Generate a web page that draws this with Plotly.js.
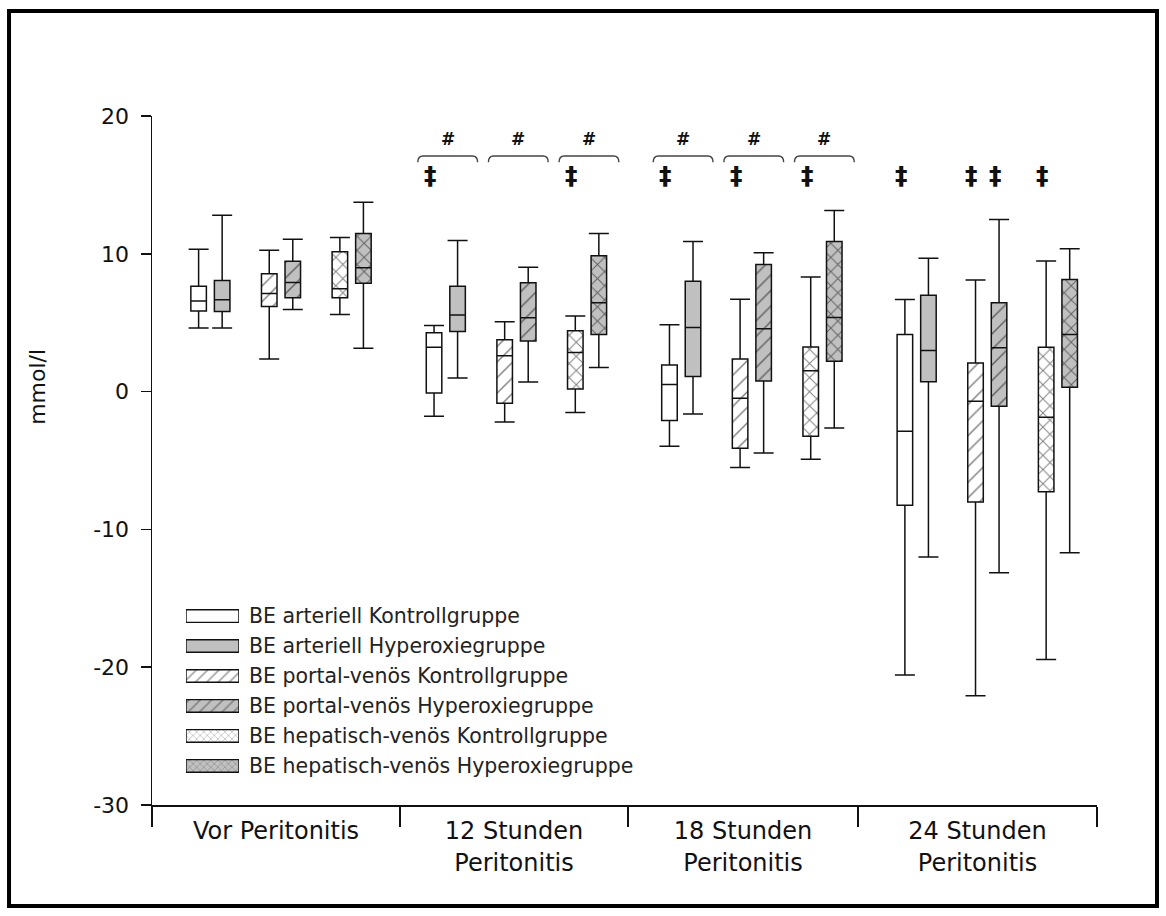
<!DOCTYPE html>
<html>
<head>
<meta charset="utf-8">
<script src="https://cdn.plot.ly/plotly-3.0.1.min.js"></script>
<style>
html,body{margin:0;padding:0;background:#fff;}
#chart{width:1166px;height:916px;}
</style>
</head>
<body>
<div id="chart"></div>
<script>
// ---------------- data ----------------
const categories = ['Vor Peritonitis', '12 Stunden<br>Peritonitis', '18 Stunden<br>Peritonitis', '24 Stunden<br>Peritonitis'];
const seriesNames = [
  'BE arteriell Kontrollgruppe',
  'BE arteriell Hyperoxiegruppe',
  'BE portal-venös Kontrollgruppe',
  'BE portal-venös Hyperoxiegruppe',
  'BE hepatisch-venös Kontrollgruppe',
  'BE hepatisch-venös Hyperoxiegruppe'
];
// rows = series (same order as seriesNames), columns = categories
const lowerWhisker = [
  [4.61, -1.79, -3.96, -20.56],
  [4.61,  0.99, -1.62, -12.00],
  [2.36, -2.20, -5.51, -22.08],
  [5.96,  0.70, -4.45, -13.14],
  [5.60, -1.52, -4.91, -19.45],
  [3.14,  1.74, -2.64, -11.70]
];
const quartile1 = [
  [5.84, -0.10, -2.10, -8.24],
  [5.82,  4.37,  1.09,  0.72],
  [6.18, -0.85, -4.11, -8.02],
  [6.81,  3.67,  0.77, -1.07],
  [6.81,  0.19, -3.24, -7.27],
  [7.87,  4.15,  2.20,  0.31]
];
const medianValues = [
  [6.57, 3.21,  0.51, -2.88],
  [6.67, 5.55,  4.66,  2.99],
  [7.12, 2.61, -0.49, -0.70],
  [7.92, 5.36,  4.56,  3.19],
  [7.46, 2.83,  1.52, -1.86],
  [8.99, 6.45,  5.38,  4.15]
];
const quartile3 = [
  [7.65,  4.27, 1.93, 4.15],
  [8.07,  7.65, 8.01, 7.00],
  [8.55,  3.77, 2.36, 2.07],
  [9.46,  7.90, 9.22, 6.45],
  [10.14, 4.42, 3.23, 3.21],
  [11.47, 9.85, 10.89, 8.14]
];
const upperWhisker = [
  [10.33, 4.80, 4.85, 6.69],
  [12.80, 10.96, 10.89, 9.68],
  [10.26, 5.07, 6.71, 8.09],
  [11.06, 9.03, 10.07, 12.49],
  [11.18, 5.48, 8.31, 9.47],
  [13.74, 11.47, 13.14, 10.36]
];
const yTickValues = [-30, -20, -10, 0, 10, 20];
// significance marks: '#' brackets over pairs [category, pair], '‡' over [category, series]
const hashBrackets = [[1,0],[1,1],[1,2],[2,0],[2,1],[2,2]];
const daggerMarks = [[1,0],[1,4],[2,0],[2,2],[2,4],[3,0],[3,2],[3,3],[3,4]];

// ---------------- styling / layout ----------------
const FONT = 'DejaVu Sans, Arial, sans-serif';
const INK = '#111111';
const GRAY = '#c0c0c0';
const offsets = [-0.35, -0.25, -0.05, 0.05, 0.25, 0.35];
const fillColors = ['#ffffff', GRAY, '#ffffff', GRAY, '#ffffff', GRAY];
const patternShapes = ['', '', '/', '/', 'x', 'x'];
const patternSizes = [8, 8, 11, 11, 10, 10];
const patternSolidity = [0.1, 0.1, 0.13, 0.13, 0.18, 0.18];
const legendPatternSizes = [6, 6, 8, 8, 5, 5];
const boundaries = [-0.548, 0.5055, 1.474, 2.451, 3.466];
const labelPos = boundaries.slice(0, -1).map((b, i) => (b + boundaries[i + 1]) / 2);
const BOXW = 0.066;

const traces = [];
seriesNames.forEach((name, s) => {
  const xs = categories.map((c, g) => g + offsets[s]);
  // patterned box body
  traces.push({
    type: 'bar', x: xs,
    base: quartile1[s],
    y: quartile3[s].map((v, i) => v - quartile1[s][i]),
    width: BOXW,
    marker: {
      color: fillColors[s],
      line: {width: 0},
      pattern: {shape: patternShapes[s], fillmode: 'overlay', fgcolor: '#000',
                size: patternSizes[s], solidity: patternSolidity[s]}
    },
    showlegend: false, hoverinfo: 'skip', name: name
  });
  // box outline, median, whiskers
  traces.push({
    type: 'box', x: xs,
    q1: quartile1[s], median: medianValues[s], q3: quartile3[s],
    lowerfence: lowerWhisker[s], upperfence: upperWhisker[s],
    width: BOXW, whiskerwidth: 0, boxpoints: false,
    line: {color: INK, width: 1.5},
    fillcolor: 'rgba(0,0,0,0)',
    showlegend: false, hoverinfo: 'skip', name: name
  });
  // whisker caps
  traces.push({
    type: 'scatter', mode: 'markers',
    x: xs.concat(xs),
    y: upperWhisker[s].concat(lowerWhisker[s]),
    marker: {size: 1, color: 'rgba(0,0,0,0)'},
    error_y: {type: 'data', array: xs.concat(xs).map(() => 0), visible: true,
              width: 10, thickness: 1.5, color: INK},
    showlegend: false, hoverinfo: 'skip', name: name
  });
});

// legend swatches (drawn on an auxiliary axis pair)
traces.push({
  type: 'bar', orientation: 'h', xaxis: 'x2', yaxis: 'y2',
  y: seriesNames.map((n, i) => i),
  x: seriesNames.map(() => 1),
  base: 0, width: 0.42,
  marker: {
    color: fillColors,
    line: {width: 1.4, color: INK},
    pattern: {shape: patternShapes, fillmode: 'overlay', fgcolor: '#000',
              size: legendPatternSizes, solidity: 0.2}
  },
  showlegend: false, hoverinfo: 'skip'
});

const annotations = [];
const shapes = [];

seriesNames.forEach((name, i) => {
  annotations.push({
    xref: 'paper', yref: 'y2', x: 0.1, y: i, text: name,
    xanchor: 'left', yanchor: 'middle', showarrow: false,
    font: {family: FONT, size: 20.5, color: '#222'}
  });
});

hashBrackets.forEach(([g, p]) => {
  const xc = g + (offsets[2 * p] + offsets[2 * p + 1]) / 2 + 0.008;
  const hw = 0.127, dx = 0.022, yTop = 17.1, yEnd = 16.65;
  const x0 = xc - hw, x1 = xc + hw;
  shapes.push({
    type: 'path', xref: 'x', yref: 'y',
    path: `M${x0},${yEnd}Q${x0},${yTop} ${x0 + dx},${yTop}L${x1 - dx},${yTop}Q${x1},${yTop} ${x1},${yEnd}`,
    line: {color: '#444', width: 1.4}
  });
  annotations.push({
    xref: 'x', yref: 'y', x: xc, y: 18.3, text: '<b>#</b>', showarrow: false,
    xanchor: 'center', yanchor: 'middle',
    font: {family: FONT, size: 17, color: INK}
  });
});

daggerMarks.forEach(([g, s]) => {
  annotations.push({
    xref: 'x', yref: 'y', x: g + offsets[s] - 0.015, y: 15.7, text: '<b>‡</b>',
    showarrow: false, xanchor: 'center', yanchor: 'middle',
    font: {family: FONT, size: 25, color: INK}
  });
});

// y-axis title
annotations.push({
  xref: 'paper', yref: 'paper', x: -0.1206, y: 0.607, text: 'mmol/l',
  textangle: -90, showarrow: false, xanchor: 'center', yanchor: 'middle',
  font: {family: FONT, size: 22, color: INK}
});

// outer frame
shapes.push({
  type: 'rect', xref: 'paper', yref: 'paper',
  x0: -0.1513, x1: 1.0635, y0: -0.1465, y1: 1.1524,
  line: {color: '#000', width: 4}, fillcolor: 'rgba(0,0,0,0)'
});

const layout = {
  width: 1166, height: 916,
  margin: {l: 152, r: 69, t: 116, b: 111},
  paper_bgcolor: '#ffffff', plot_bgcolor: '#ffffff',
  showlegend: false,
  barmode: 'overlay',
  boxmode: 'overlay',
  font: {family: FONT, color: INK},
  xaxis: {
    range: [boundaries[0], boundaries[boundaries.length - 1]],
    tickmode: 'array', tickvals: labelPos, ticktext: categories,
    ticks: '', showgrid: false, zeroline: false,
    showline: true, linecolor: INK, linewidth: 1.5,
    tickfont: {family: FONT, size: 24, color: INK},
    ticklabelstandoff: 4,
    minor: {tickmode: 'array', tickvals: boundaries, ticks: 'outside',
            ticklen: 20, tickwidth: 1.5, tickcolor: INK, showgrid: false},
    fixedrange: true
  },
  yaxis: {
    range: [-30, 20], tickmode: 'array', tickvals: yTickValues,
    ticktext: yTickValues.map(v => String(v)),
    ticks: 'outside', ticklen: 10, tickwidth: 1.5, tickcolor: INK,
    showline: true, linecolor: INK, linewidth: 1.5,
    showgrid: false, zeroline: false,
    tickfont: {family: FONT, size: 22, color: INK},
    ticklabelstandoff: 7,
    fixedrange: true
  },
  xaxis2: {domain: [0.036, 0.092], range: [0, 1], visible: false, anchor: 'y2', fixedrange: true},
  yaxis2: {domain: [0.035, 0.296], range: [5.5, -0.5], visible: false, anchor: 'x2', fixedrange: true},
  annotations: annotations,
  shapes: shapes
};

Plotly.newPlot('chart', traces, layout, {displayModeBar: false, staticPlot: true});
</script>
</body>
</html>
